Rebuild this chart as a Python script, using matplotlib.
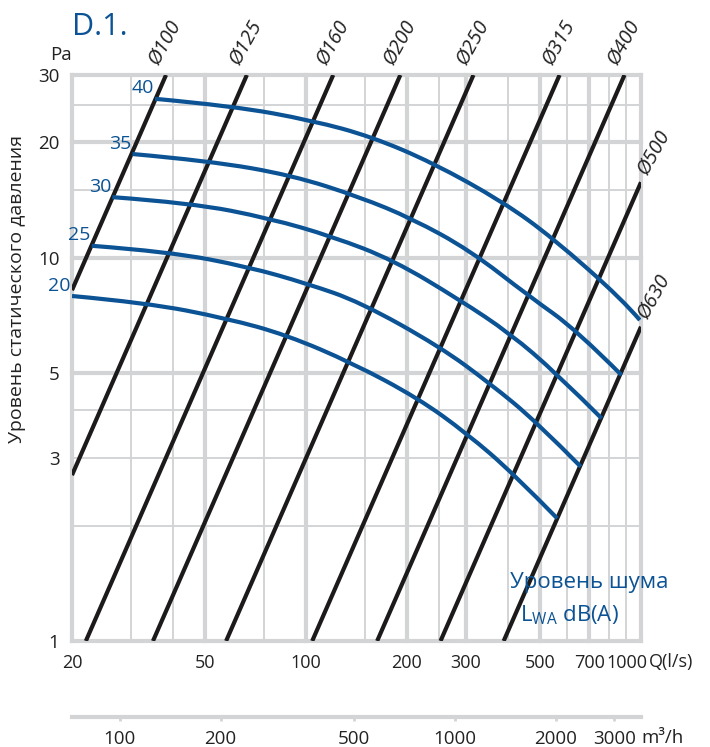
import matplotlib.pyplot as plt
from matplotlib.path import Path
from matplotlib.patches import PathPatch
from matplotlib.transforms import offset_copy
import numpy as np

# --- данные ---
# воздуховоды: расход (l/s) при 1 Pa, линии P ~ Q^2
duct_names = ["Ø100", "Ø125", "Ø160", "Ø200", "Ø250", "Ø315", "Ø400", "Ø500", "Ø630"]
duct_q1 = [6.97, 12.15, 22.0, 34.9, 57.7, 104.3, 163.0, 252.0, 389.0]

# кривые уровня шума (dB(A))
noise_levels = [20, 25, 30, 35, 40]
q20 = [20, 33.4, 57.9, 87.5, 138.3, 216, 302, 415, 562]
p20 = [7.95, 7.63, 6.95, 6.29, 5.30, 4.30, 3.48, 2.74, 2.09]
q25 = [22.9, 39.2, 67.5, 100.4, 144.8, 251, 354, 488, 661]
p25 = [10.75, 10.37, 9.46, 8.57, 7.67, 5.86, 4.70, 3.73, 2.85]
q30 = [26.4, 45.5, 78.0, 120.3, 182, 288, 406, 560, 763]
p30 = [14.4, 13.9, 12.67, 11.35, 9.87, 7.76, 6.35, 4.99, 3.81]
q35 = [30.3, 51.6, 91.3, 144.8, 206.6, 308, 466, 642, 875]
p35 = [18.66, 17.9, 16.4, 14.4, 12.67, 10.47, 7.91, 6.48, 4.94]
q40 = [35.4, 60.5, 104.8, 156.9, 239, 387, 546, 883, 992]
p40 = [26.0, 24.9, 22.8, 20.7, 17.7, 14.0, 11.26, 7.76, 6.88]
noise_q = [q20, q25, q30, q35, q40]
noise_p = [p20, p25, p30, p35, p40]

x_ticks = [20, 50, 100, 200, 300, 500, 700, 1000]
x_minor = [30, 40, 75, 150, 250, 400, 600, 800, 900]
y_ticks = [1, 3, 5, 10, 20, 30]
y_major = [1, 5, 10, 20, 30]
y_minor = [2, 3, 4, 15, 25]
m3h_ticks = [100, 200, 500, 1000, 2000, 3000]

BLUE = "#0b5394"
GRID = "#d3d4d6"
DARK = "#1c1a1a"
TXT = "#222222"

plt.rcParams["font.family"] = ["Open Sans", "DejaVu Sans"]


def smooth_path(qs, ps):
    # гладкая кривая (квадратичные Безье) через точки в лог-пространстве
    lx = np.log10(qs)
    ly = np.log10(ps)
    verts = [(qs[0], ps[0])]
    codes = [Path.MOVETO]
    n = len(qs)
    for i in range(1, n - 1):
        verts.append((qs[i], ps[i]))
        if i < n - 2:
            verts.append((10 ** ((lx[i] + lx[i + 1]) / 2), 10 ** ((ly[i] + ly[i + 1]) / 2)))
        else:
            verts.append((qs[-1], ps[-1]))
        codes += [Path.CURVE3, Path.CURVE3]
    return Path(verts, codes)


fig = plt.figure(figsize=(7.1, 7.47), dpi=100)
ax = fig.add_axes([72 / 710, 1 - 641 / 747, 569 / 710, 566 / 747])
ax.set_xscale("log")
ax.set_yscale("log")
ax.set_xlim(20, 1000)
ax.set_ylim(1, 30)

# сетка
for v in x_minor:
    ax.axvline(v, color=GRID, lw=1.4, zorder=1)
for v in y_minor:
    ax.axhline(v, color=GRID, lw=1.4, zorder=1)
for v in x_ticks:
    ax.axvline(v, color=GRID, lw=3, zorder=1, clip_on=False)
for v in y_major:
    ax.axhline(v, color=GRID, lw=3, zorder=1, clip_on=False)
for s in ax.spines.values():
    s.set_visible(False)

# линии воздуховодов
for name, q1 in zip(duct_names, duct_q1):
    qa = max(20, q1)
    qb = min(1000, q1 * np.sqrt(30))
    ax.plot([qa, qb], [(qa / q1) ** 2, (qb / q1) ** 2], color=DARK, lw=3,
            solid_capstyle="butt", zorder=3)
    if qb < 1000:
        ax.annotate(name, (qb, 30), xytext=(-2, 5), textcoords="offset points",
                    rotation=61, rotation_mode="anchor", ha="left", va="bottom",
                    fontsize=14.5, style="italic", color=TXT, annotation_clip=False)
    else:
        ax.annotate(name, (qb, (qb / q1) ** 2), xytext=(8, 3), textcoords="offset points",
                    rotation=61, rotation_mode="anchor", ha="left", va="bottom",
                    fontsize=14.5, style="italic", color=TXT, annotation_clip=False)

# кривые шума
for lev, qs, ps in zip(noise_levels, noise_q, noise_p):
    ax.add_patch(PathPatch(smooth_path(qs, ps), fill=False, edgecolor=BLUE, lw=3,
                           capstyle="butt", zorder=4))
    ax.annotate(str(lev), (qs[0], ps[0]), xytext=(-1, 1), textcoords="offset points",
                ha="right", va="bottom", fontsize=14, color=BLUE, annotation_clip=False)

# оси
ax.set_xticks(x_ticks)
ax.set_xticklabels([str(v) for v in x_ticks])
ax.set_xticks([], minor=True)
ax.set_yticks(y_ticks)
ax.set_yticklabels([str(v) for v in y_ticks])
ax.set_yticks([], minor=True)
ax.tick_params(length=0, labelsize=13.5, colors=TXT, pad=9)
ax.tick_params(axis="x", labelsize=13)
lab = ax.get_xticklabels()[-1]
lab.set_horizontalalignment("right")
lab.set_transform(offset_copy(lab.get_transform(), fig=fig, x=6, y=0, units="dots"))

fig.text(649 / 710, 1 - 662 / 747, "Q(l/s)", fontsize=13, color=TXT,
         ha="left", va="center")
fig.text(72 / 710, 1 - 55 / 747, "Pa", fontsize=13.5, color=TXT, ha="right", va="center")
fig.text(17 / 710, 1 - 289 / 747, "Уровень статического давления", rotation=90,
         fontsize=14, color=TXT, ha="center", va="center")
fig.text(72 / 710, 1 - 27 / 747, "D.1.", fontsize=22, color=BLUE, ha="left", va="center")
ax.text(700, 1.417, "Уровень шума", fontsize=16, color=BLUE, ha="center", va="center")
ax.text(612, 1.169, r"L$_{\mathregular{WA}}$ dB(A)", fontsize=16, color=BLUE,
        ha="center", va="center")

# вторая шкала m3/h
ax2 = fig.add_axes([72 / 710, 1 - 717 / 747, 569 / 710, 0.0001])
ax2.set_xscale("log")
ax2.set_xlim(20 * 3.6, 1000 * 3.6)
ax2.set_yticks([])
for s in ["top", "left", "right"]:
    ax2.spines[s].set_visible(False)
ax2.spines["bottom"].set_color(GRID)
ax2.spines["bottom"].set_linewidth(3)
ax2.set_xticks(m3h_ticks)
ax2.set_xticklabels([str(v) for v in m3h_ticks])
ax2.set_xticks([], minor=True)
ax2.tick_params(axis="x", length=3, width=2, color=GRID, labelsize=13.5,
                labelcolor=TXT, pad=6)
fig.text(641 / 710, 1 - 738 / 747, "m³/h", fontsize=13.5, color=TXT,
         ha="left", va="center")

fig.savefig("out.png", dpi=100)
